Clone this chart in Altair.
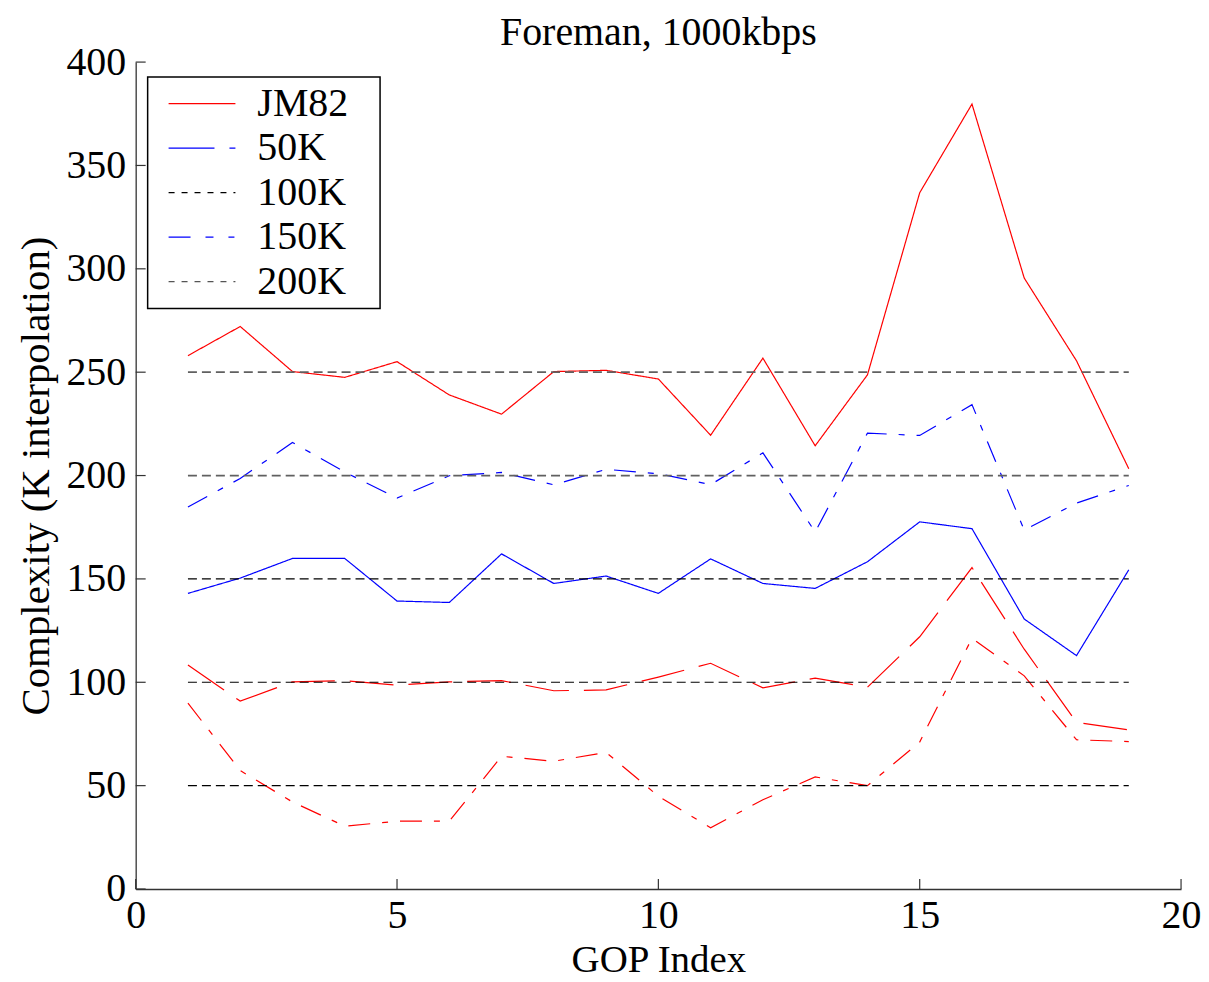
import altair as alt
import pandas as pd

# ---------------- data ----------------
gop = list(range(1, 20))
jm82 = [258.0, 272.1, 250.3, 247.5, 255.1, 239.0, 229.7, 250.3, 250.9, 246.7,
        219.5, 256.8, 214.4, 248.7, 336.8, 379.7, 295.5, 255.5, 203.3]
blue_dashdot = [184.8, 198.6, 216.0, 201.7, 189.1, 199.9, 201.5, 195.5, 203.0, 200.9,
                195.6, 211.0, 172.7, 220.5, 219.4, 234.3, 173.6, 186.7, 195.2]
blue_solid = [143.0, 150.4, 159.9, 159.9, 139.3, 138.6, 162.1, 147.8, 151.4, 143.0,
              159.7, 147.8, 145.4, 158.3, 177.6, 174.3, 130.6, 112.9, 154.4]
red_dashed = [108.4, 90.9, 100.2, 100.8, 98.6, 100.2, 100.8, 95.9, 96.3, 102.5,
              109.2, 97.3, 102.0, 97.6, 122.0, 155.5, 116.0, 80.6, 77.0]
red_dashdot = [89.9, 57.3, 42.1, 30.4, 32.8, 32.8, 64.2, 61.8, 66.1, 44.9,
               29.6, 43.2, 54.2, 50.0, 71.1, 121.3, 103.1, 72.2, 71.3]

series_names = ["JM82", "blue_dashdot", "blue_solid", "red_dashed", "red_dashdot"]
series_values = [jm82, blue_dashdot, blue_solid, red_dashed, red_dashdot]
series_colors = ["#ff0000", "#0000ff", "#0000ff", "#ff0000", "#ff0000"]
series_dashes = [[1, 0], [22, 12, 6, 12], [1, 0], [44, 15], [22, 12, 6, 12]]

target_levels = [50, 100, 150, 200, 250]
target_start = [1] * 5
target_end = [19] * 5

x_ticks = [0, 5, 10, 15, 20]
y_ticks = [0, 50, 100, 150, 200, 250, 300, 350, 400]

legend_labels = ["JM82", "50K", "100K", "150K", "200K"]
legend_colors = ["#ff0000", "#0000ff", "#000000", "#0000ff", "#555555"]
legend_dashes = [[1, 0], [46, 15, 6, 100], [6, 7], [22, 15, 8, 15, 6, 100], [6, 7]]

# ---------------- tables ----------------
rows = []
for name, vals in zip(series_names, series_values):
    for g, v in zip(gop, vals):
        rows.append({"gop": g, "value": v, "series": name})
df = pd.DataFrame(rows)
df_ref = pd.DataFrame({"level": target_levels, "start": target_start, "end": target_end})
df_xt = pd.DataFrame({"t": x_ticks})
df_yt = pd.DataFrame({"t": y_ticks})
df_leg = pd.DataFrame({"label": legend_labels})

# ---------------- layout ----------------
W, H = 1048, 829
FONT = "Liberation Serif"
FS = 40
AXIS_COLOR = "#333333"
TICK_LEN = 10

xs = alt.Scale(domain=[0, 20], nice=False, zero=False)
ys = alt.Scale(domain=[0, 400], nice=False, zero=False)

lines = alt.Chart(df).mark_line(strokeWidth=1.2).encode(
    x=alt.X("gop:Q", scale=xs,
            axis=alt.Axis(values=x_ticks, title="GOP Index", labelPadding=7,
                          labelFlush=False, titlePadding=5, titleFontSize=39)),
    y=alt.Y("value:Q", scale=ys,
            axis=alt.Axis(values=y_ticks, title="Complexity (K interpolation)",
                          labelPadding=10, titlePadding=8, titleFontSize=41,
                          labelFlush=False)),
    color=alt.Color("series:N", scale=alt.Scale(domain=series_names, range=series_colors),
                    legend=None),
    strokeDash=alt.StrokeDash("series:N",
                              scale=alt.Scale(domain=series_names, range=series_dashes),
                              legend=None),
    detail="series:N",
)

ref_dark = alt.Chart(df_ref).transform_filter(alt.datum.level >= 200).mark_rule(
    color="#606060", strokeWidth=1.8, strokeDash=[9, 5]
).encode(
    x=alt.X("start:Q", scale=xs, axis=None),
    x2="end:Q",
    y=alt.Y("level:Q", scale=ys, axis=None),
)
ref_black = alt.Chart(df_ref).transform_filter(alt.datum.level < 200).mark_rule(
    color="#000000", strokeWidth=1.1, strokeDash=[9, 5]
).encode(
    x=alt.X("start:Q", scale=xs, axis=None),
    x2="end:Q",
    y=alt.Y("level:Q", scale=ys, axis=None),
)

xtick = alt.Chart(df_xt).mark_rule(color=AXIS_COLOR, strokeWidth=1.2).encode(
    x=alt.X("t:Q", scale=xs, axis=None),
    y=alt.value(H),
    y2=alt.value(H - TICK_LEN),
)
ytick = alt.Chart(df_yt).mark_rule(color=AXIS_COLOR, strokeWidth=1.2).encode(
    y=alt.Y("t:Q", scale=ys, axis=None),
    x=alt.value(0),
    x2=alt.value(TICK_LEN),
)

# legend box (pixel layout, relative to the plot area)
LX0, LX1, LY0, LY1 = 12, 245, 15, 247
ROW0, ROW1 = 41.7, 220
SYM0, SYM1, TXT = 33, 100, 122

leg_box = alt.Chart(df_leg.head(1)).mark_rect(
    fill="white", stroke="black", strokeWidth=1.5
).encode(
    x=alt.value(LX0), x2=alt.value(LX1), y=alt.value(LY0), y2=alt.value(LY1)
)
leg_y = alt.Y("label:N", sort=legend_labels,
              scale=alt.Scale(type="point", domain=legend_labels, range=[ROW0, ROW1],
                              padding=0),
              axis=None)
leg_sym = alt.Chart(df_leg).mark_rule(strokeWidth=1.3).encode(
    x=alt.value(SYM0), x2=alt.value(SYM1),
    y=leg_y,
    color=alt.Color("label:N", scale=alt.Scale(domain=legend_labels, range=legend_colors),
                    legend=None),
    strokeDash=alt.StrokeDash("label:N",
                              scale=alt.Scale(domain=legend_labels, range=legend_dashes),
                              legend=None),
)
leg_txt = alt.Chart(df_leg).mark_text(
    align="left", baseline="middle", font=FONT, fontSize=FS, color="black"
).encode(
    x=alt.value(TXT), y=leg_y, text="label:N"
)

chart = alt.layer(
    lines, ref_dark, ref_black, xtick, ytick, leg_box, leg_sym, leg_txt
).resolve_scale(
    x="independent", y="independent", color="independent", strokeDash="independent"
).properties(
    width=W, height=H,
    autosize="none",
    padding={"left": 128, "top": 53, "right": 20, "bottom": 92},
    title=alt.TitleParams("Foreman, 1000kbps", font=FONT, fontSize=FS,
                          fontWeight="normal", anchor="middle", frame="group",
                          offset=-11, color="black"),
).configure_view(stroke=None).configure_axis(
    domainColor=AXIS_COLOR, domainWidth=1.3, ticks=False, tickSize=0, grid=False,
    labelFont=FONT, labelFontSize=FS, labelColor="black",
    titleFont=FONT, titleFontSize=FS, titleFontWeight="normal", titleColor="black",
)

chart.save("out.html", embed_options={"renderer": "svg", "actions": False})
